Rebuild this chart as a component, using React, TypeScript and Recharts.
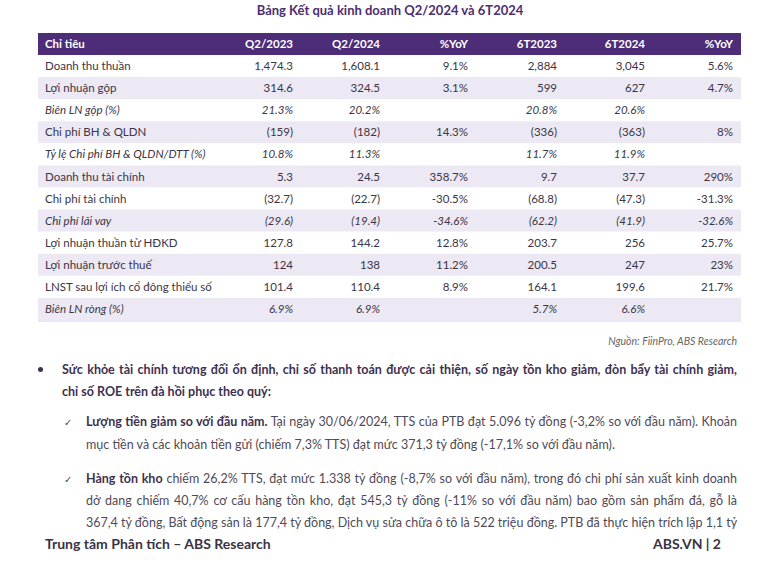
import React from 'react';
import { BarChart, XAxis, YAxis } from 'recharts';

// table content
const headers = ['Chỉ tiêu', 'Q2/2023', 'Q2/2024', '%YoY', '6T2023', '6T2024', '%YoY'];

const labels = [
    'Doanh thu thuần',
    'Lợi nhuận gộp',
    'Biên LN gộp (%)',
    'Chi phí BH & QLDN',
    'Tỷ lệ Chi phí BH & QLDN/DTT (%)',
    'Doanh thu tài chính',
    'Chi phí tài chính',
    'Chi phí lãi vay',
    'Lợi nhuận thuần từ HĐKD',
    'Lợi nhuận trước thuế',
    'LNST sau lợi ích cổ đông thiểu số',
    'Biên LN ròng (%)',
];

const q2_2023 = ['1,474.3', '314.6', '21.3%', '(159)', '10.8%', '5.3', '(32.7)', '(29.6)', '127.8', '124', '101.4', '6.9%'];
const q2_2024 = ['1,608.1', '324.5', '20.2%', '(182)', '11.3%', '24.5', '(22.7)', '(19.4)', '144.2', '138', '110.4', '6.9%'];
const yoyQ2 = ['9.1%', '3.1%', '', '14.3%', '', '358.7%', '-30.5%', '-34.6%', '12.8%', '11.2%', '8.9%', ''];
const h1_2023 = ['2,884', '599', '20.8%', '(336)', '11.7%', '9.7', '(68.8)', '(62.2)', '203.7', '200.5', '164.1', '5.7%'];
const h1_2024 = ['3,045', '627', '20.6%', '(363)', '11.9%', '37.7', '(47.3)', '(41.9)', '256', '247', '199.6', '6.6%'];
const yoyH1 = ['5.6%', '4.7%', '', '8%', '', '290%', '-31.3%', '-32.6%', '25.7%', '23%', '21.7%', ''];

const tableData = [
    { label: headers[0], cells: headers.slice(1) },
    ...labels.map((label, i) => ({
        label,
        cells: [q2_2023[i], q2_2024[i], yoyQ2[i], h1_2023[i], h1_2024[i], yoyH1[i]],
    })),
];

const FONT = 'Lato, "Noto Sans", sans-serif';
const PURPLE = '#4d2c78';
const SHADE = '#ece8f4';
const colRight = [293, 380, 468, 557, 645, 733];
const italicRows = new Set(['Biên LN gộp (%)', 'Tỷ lệ Chi phí BH & QLDN/DTT (%)', 'Chi phí lãi vay', 'Biên LN ròng (%)']);

function RowTick(props: any) {
    const { y, payload } = props;
    const i = payload.index ?? props.index ?? 0;
    const half = payload.offset || 11;
    const row = tableData[i];
    const isHead = i === 0;
    const fill = isHead ? PURPLE : i % 2 === 0 ? SHADE : '#ffffff';
    const color = isHead ? '#ffffff' : '#3b3546';
    const style = isHead ? 'normal' : italicRows.has(row.label) ? 'italic' : 'normal';
    const weight = isHead ? 700 : 400;
    return (
        <g>
            <rect x={38} y={y - half} width={703} height={half * 2} fill={fill} />
            <text x={45} y={y} dy="0.35em" fontSize={11.5} fill={color} fontWeight={weight} fontStyle={style} fontFamily={FONT}>
                {row.label}
            </text>
            {row.cells.map((c, k) => (
                <text key={k} x={colRight[k]} y={y} dy="0.35em" textAnchor="end" fontSize={11.5} fill={color}
                    fontWeight={weight} fontStyle={style} fontFamily={FONT}>
                    {c}
                </text>
            ))}
            {i === tableData.length - 1 && (
                <line x1={38} x2={741} y1={y + half + 1} y2={y + half + 1} stroke="#e3def0" strokeWidth={1.5} />
            )}
        </g>
    );
}

const lineStyle: React.CSSProperties = {
    position: 'absolute', whiteSpace: 'nowrap', fontFamily: FONT, fontSize: 12.5, color: '#4f4a58',
    lineHeight: '16px',
};
const bold: React.CSSProperties = { fontWeight: 700, color: '#3e3150' };

function Line({ x, y, w, justify, children }: any) {
    return (
        <div style={{ ...lineStyle, left: x, top: y - 8, width: w, textAlign: justify ? 'justify' : 'left', textAlignLast: justify ? 'justify' : 'left' } as any}>
            {children}
        </div>
    );
}

export default function App() {
    return (
        <div style={{ position: 'absolute', left: 0, top: 0, width: 780, height: 576, background: '#fff', overflow: 'hidden' }}>
            <div style={{ position: 'absolute', left: 0, top: 2, width: 780, textAlign: 'center', fontFamily: FONT, fontSize: 13, fontWeight: 700, color: '#4b2e70' }}>
                Bảng Kết quả kinh doanh Q2/2024 và 6T2024
            </div>
            <div style={{ position: 'absolute', left: 0, top: 0 }}>
                <BarChart width={780} height={330} data={tableData} layout="vertical" margin={{ top: 33, right: 30, bottom: 10, left: 38 }}>
                    <XAxis type="number" hide />
                    <YAxis type="category" dataKey="label" width={702} interval={0} tick={<RowTick />} tickLine={false} axisLine={false} />
                </BarChart>
            </div>
            <div style={{ position: 'absolute', right: 43, top: 335, fontFamily: FONT, fontSize: 10.5, fontStyle: 'italic', color: '#666' }}>
                Nguồn: FiinPro, ABS Research
            </div>

            <div style={{ position: 'absolute', left: 38, top: 367, width: 5, height: 5, borderRadius: 3, background: '#3e3150' }} />
            <Line x={62} y={370} w={675} justify><span style={bold}>Sức khỏe tài chính tương đối ổn định, chỉ số thanh toán được cải thiện, số ngày tồn kho giảm, đòn bẩy tài chính giảm,</span></Line>
            <Line x={62} y={392}><span style={bold}>chỉ số ROE trên đà hồi phục theo quý:</span></Line>

            <Line x={64} y={422}><span style={{ fontSize: 10 }}>✓</span></Line>
            <Line x={86} y={422} w={651} justify><span style={bold}>Lượng tiền giảm so với đầu năm.</span> Tại ngày 30/06/2024, TTS của PTB đạt 5.096 tỷ đồng (-3,2% so với đầu năm). Khoản</Line>
            <Line x={86} y={445}>mục tiền và các khoản tiền gửi (chiếm 7,3% TTS) đạt mức 371,3 tỷ đồng (-17,1% so với đầu năm).</Line>

            <Line x={64} y={479}><span style={{ fontSize: 10 }}>✓</span></Line>
            <Line x={86} y={479} w={651} justify><span style={bold}>Hàng tồn kho</span> chiếm 26,2% TTS, đạt mức 1.338 tỷ đồng (-8,7% so với đầu năm), trong đó chi phí sản xuất kinh doanh</Line>
            <Line x={86} y={501} w={651} justify>dở dang chiếm 40,7% cơ cấu hàng tồn kho, đạt 545,3 tỷ đồng (-11% so với đầu năm) bao gồm sản phẩm đá, gỗ là</Line>
            <Line x={86} y={523} w={651} justify>367,4 tỷ đồng, Bất động sản là 177,4 tỷ đồng, Dịch vụ sửa chữa ô tô là 522 triệu đồng. PTB đã thực hiện trích lập 1,1 tỷ</Line>

            <div style={{ position: 'absolute', left: 45, top: 535, fontFamily: FONT, fontSize: 14, fontWeight: 700, color: '#3a3344' }}>
                Trung tâm Phân tích – ABS Research
            </div>
            <div style={{ position: 'absolute', right: 59, top: 535, fontFamily: FONT, fontSize: 14, fontWeight: 700, color: '#3a3344' }}>
                ABS.VN | 2
            </div>
        </div>
    );
}
